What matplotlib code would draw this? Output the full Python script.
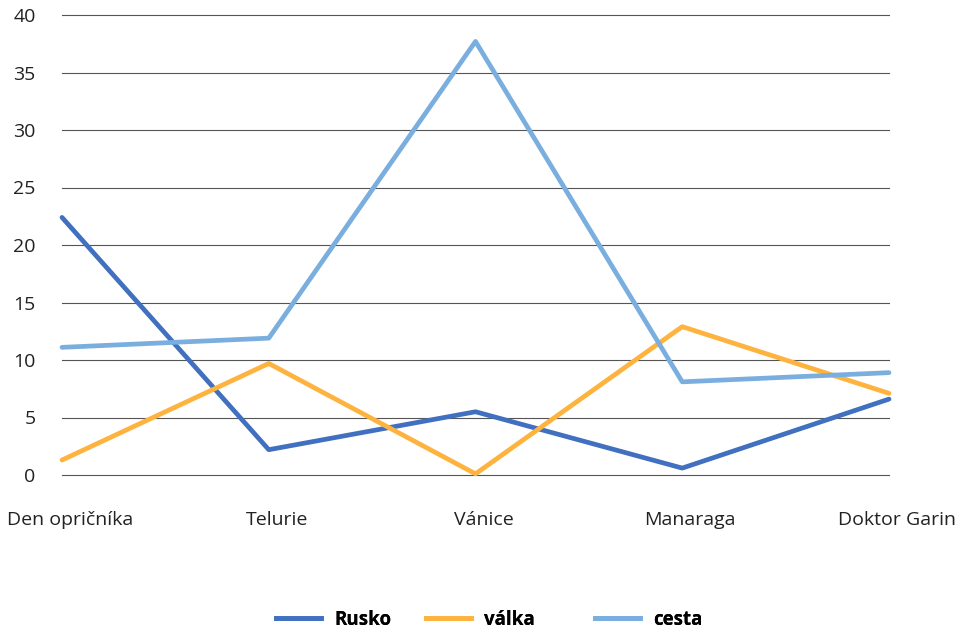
import matplotlib.pyplot as plt
import matplotlib.transforms as mtransforms
from matplotlib.lines import Line2D

plt.rcParams["font.family"] = ["Open Sans", "DejaVu Sans"]

# Data
categories = ["Den opričníka", "Telurie", "Vánice", "Manaraga", "Doktor Garin"]
rusko = [22.4, 2.2, 5.5, 0.6, 6.6]
valka = [1.3, 9.7, 0.1, 12.9, 7.1]
cesta = [11.1, 11.9, 37.7, 8.1, 8.9]
series_names = ["Rusko", "válka", "cesta"]
colors = ["#4070BF", "#FDB33D", "#79AEDF"]

fig = plt.figure(figsize=(9.69, 6.32), dpi=100)
ax = fig.add_axes([62 / 969, 1 - 475 / 632, (889 - 62) / 969, (475 - 15) / 632])

x = range(len(categories))
for vals, c in zip([rusko, valka, cesta], colors):
    ax.plot(x, vals, color=c, linewidth=3.4, solid_capstyle="round", clip_on=False, zorder=3)

ax.set_xlim(0, len(categories) - 1)
ax.set_ylim(0, 40)
ax.set_yticks(range(0, 41, 5))
ax.grid(axis="y", color="#555555", linewidth=0.8, zorder=0)
for gl in ax.get_ygridlines():
    gl.set_clip_on(False)
for s in ax.spines.values():
    s.set_visible(False)
ax.tick_params(axis="both", length=0, labelsize=14, colors="#222222")
ax.tick_params(axis="y", pad=19)
ax.tick_params(axis="x", pad=26)
ax.set_xticks(list(x))
ax.set_xticklabels(categories)

# popisky osy x jsou v originale trochu posunute doprava
posun = mtransforms.ScaledTranslation(8 / 100, 0, fig.dpi_scale_trans)
for lbl in ax.get_xticklabels():
    lbl.set_transform(lbl.get_transform() + posun)

# legenda - kazda polozka zvlast, jako v originale
leg_x = [276, 426, 595]
for name, c, lx in zip(series_names, colors, leg_x):
    h = Line2D([0], [0], color=c, linewidth=3.4)
    leg = fig.legend([h], [name], loc="center left", bbox_to_anchor=(lx / 969, 1 - 620 / 632),
                     frameon=False, handlelength=2.4, handletextpad=0.7,
                     borderpad=0, borderaxespad=0,
                     prop={"weight": "bold", "size": 13.5})
    fig.add_artist(leg)

fig.savefig("out.png", dpi=100)
